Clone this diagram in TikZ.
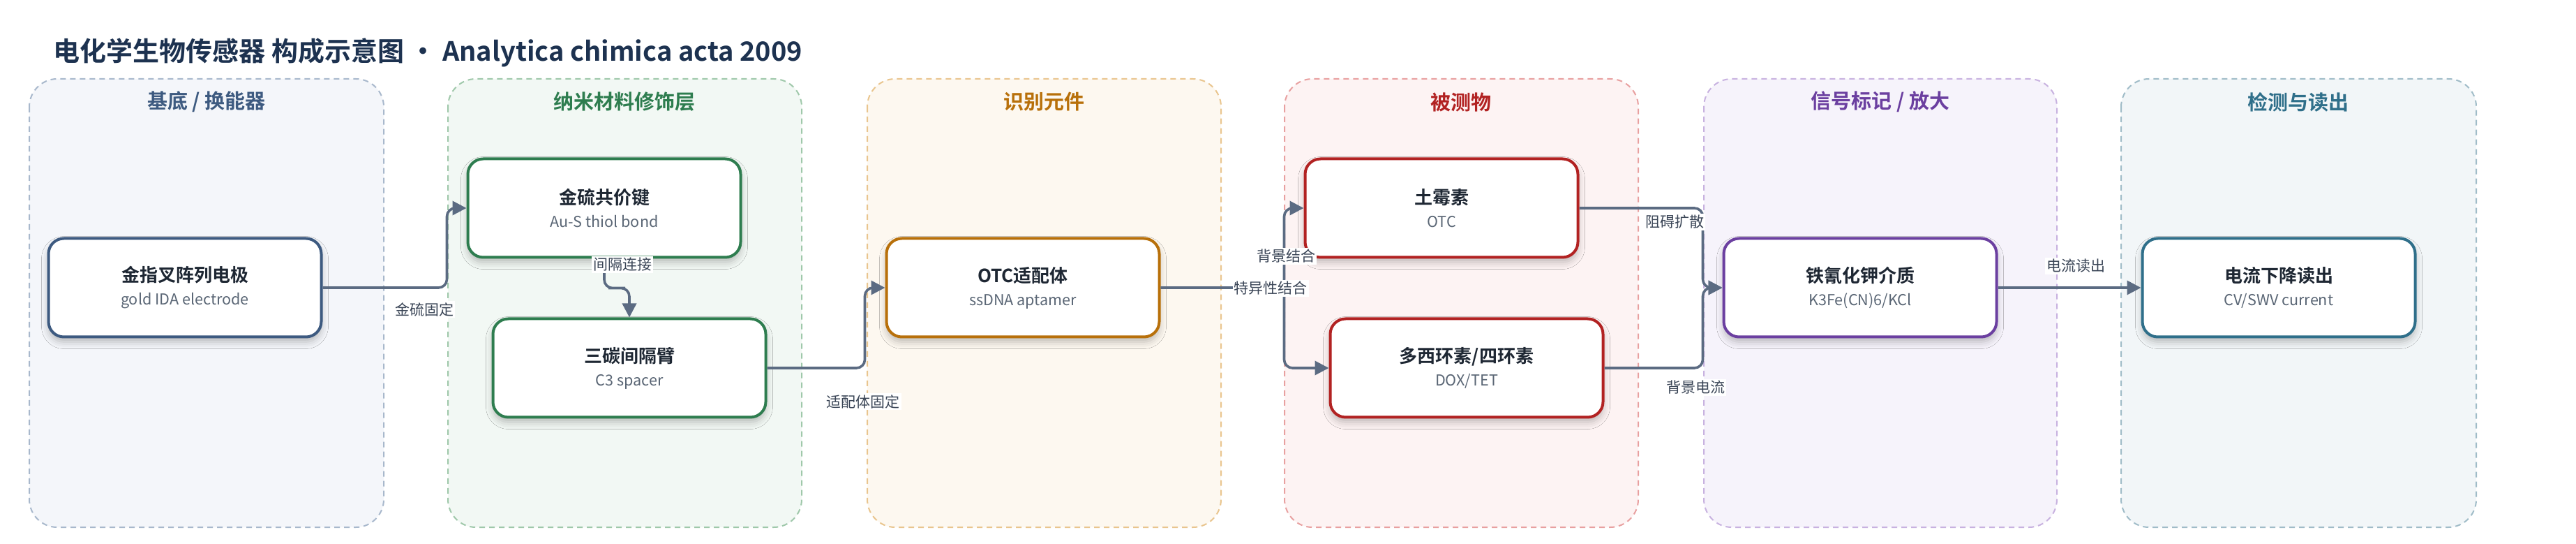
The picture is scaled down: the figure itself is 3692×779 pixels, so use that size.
\documentclass[tikz,border=0pt]{standalone}
\usepackage{fontspec}
\setmainfont{Noto Sans CJK SC}[BoldFont={Noto Sans CJK SC Bold}]
\usetikzlibrary{arrows.meta,calc,shadows.blur}
\definecolor{titlec}{HTML}{1D3250}
\definecolor{ntext}{HTML}{1E2733}
\definecolor{nsub}{HTML}{5A6675}
\definecolor{conc}{HTML}{5B6B82}
\definecolor{lblc}{HTML}{3A4556}
% lanes: title / fill / border
\definecolor{laT}{HTML}{3D5A80}\definecolor{laF}{HTML}{F4F6FA}\definecolor{laB}{HTML}{A8B8CC}
\definecolor{lbT}{HTML}{2E7D4F}\definecolor{lbF}{HTML}{F2F8F4}\definecolor{lbB}{HTML}{9FC8AA}
\definecolor{lcT}{HTML}{B8700A}\definecolor{lcF}{HTML}{FDF8F0}\definecolor{lcB}{HTML}{E9C58E}
\definecolor{ldT}{HTML}{B22222}\definecolor{ldF}{HTML}{FDF3F3}\definecolor{ldB}{HTML}{E8A0A0}
\definecolor{leT}{HTML}{6B3FA0}\definecolor{leF}{HTML}{F6F3FB}\definecolor{leB}{HTML}{C8B2E0}
\definecolor{lfT}{HTML}{2F6F8A}\definecolor{lfF}{HTML}{F2F6F8}\definecolor{lfB}{HTML}{A0BCC8}
\newcommand{\ntitle}[1]{{\bfseries\fontsize{13pt}{16.5pt}\selectfont\color{ntext}#1}}
\newcommand{\nsubt}[1]{{\fontsize{10.8pt}{16.5pt}\selectfont\color{nsub}#1}}
\tikzset{
  lanebox/.style={line width=1pt,dash pattern=on 4pt off 3pt,rounded corners=20pt},
  lanetitle/.style={font=\bfseries\fontsize{14.5pt}{16pt}\selectfont},
  box/.style={draw=#1,line width=2pt,fill=white,rounded corners=11pt,
    minimum width=195.5pt,minimum height=70.5pt,align=center,inner sep=0pt,
    font=\fontsize{10.8pt}{16.5pt}\selectfont,
    blur shadow={shadow xshift=0pt,shadow yshift=-3.5pt,shadow blur radius=5pt,shadow opacity=25}},
  conn/.style={draw=conc,line width=1.8pt,rounded corners=6pt,
    -{Triangle[length=10pt,width=10pt]}},
  lbl/.style={fill=white,text=lblc,font=\fontsize{10.5pt}{12pt}\selectfont,inner sep=1pt}
}
\begin{document}
\begin{tikzpicture}[x=0.5pt,y=-0.5pt]
\useasboundingbox[fill=white] (0,0) rectangle (3692,779);
% title
\node[anchor=west,text=titlec,font=\bfseries\fontsize{19pt}{22pt}\selectfont,inner sep=0pt] (title) at (76,75)
  {电化学生物传感器 构成示意图 · Analytica chimica acta 2009};
% lanes
\draw[lanebox,draw=laB,fill=laF] (42,113) rectangle (550,755);
\draw[lanebox,draw=lbB,fill=lbF] (642,113) rectangle (1149,755);
\draw[lanebox,draw=lcB,fill=lcF] (1243,113) rectangle (1750,755);
\draw[lanebox,draw=ldB,fill=ldF] (1841,113) rectangle (2348,755);
\draw[lanebox,draw=leB,fill=leF] (2442,113) rectangle (2948,755);
\draw[lanebox,draw=lfB,fill=lfF] (3040,113) rectangle (3549,755);
\node[lanetitle,text=laT] (t1) at (296,146) {基底 / 换能器};
\node[lanetitle,text=lbT] (t2) at (895,146) {纳米材料修饰层};
\node[lanetitle,text=lcT] (t3) at (1496,146) {识别元件};
\node[lanetitle,text=ldT] (t4) at (2094,146) {被测物};
\node[lanetitle,text=leT] (t5) at (2695,146) {信号标记 / 放大};
\node[lanetitle,text=lfT] (t6) at (3294,146) {检测与读出};
% nodes
\node[box=laT] (n1) at (265,412) {\ntitle{金指叉阵列电极}\\\nsubt{gold IDA electrode}};
\node[box=lbT] (n2) at (866,298) {\ntitle{金硫共价键}\\\nsubt{Au-S thiol bond}};
\node[box=lbT] (n3) at (902,527) {\ntitle{三碳间隔臂}\\\nsubt{C3 spacer}};
\node[box=lcT] (n4) at (1466,412) {\ntitle{OTC适配体}\\\nsubt{ssDNA aptamer}};
\node[box=ldT] (n5) at (2066,298) {\ntitle{土霉素}\\\nsubt{OTC}};
\node[box=ldT] (n6) at (2102,527) {\ntitle{多西环素/四环素}\\\nsubt{DOX/TET}};
\node[box=leT] (n7) at (2666,412) {\ntitle{铁氰化钾介质}\\\nsubt{K3Fe(CN)6/KCl}};
\node[box=lfT] (n8) at (3266,412) {\ntitle{电流下降读出}\\\nsubt{CV/SWV current}};
% junction coordinates
\coordinate (j12) at ($(n2.west)+(-28,0)$);
\coordinate (j34) at ($(n4.west)+(-29,0)$);
\coordinate (j45) at ($(n5.west)+(-28,0)$);
\coordinate (j57) at ($(n7.west)+(-28,0)$);
% connectors
\draw[conn] (n1.east) -| (j12) -- (n2.west);
\draw[conn] (n2.south) |- ($(n2.south)!0.5!(n3.north)$) -| (n3.north);
\draw[conn] (n3.east) -| (j34) -- (n4.west);
\draw[conn] (n4.east) -| (j45) -- (n5.west);
\draw[conn] (n4.east) -- (n4.east -| j45) |- (n6.west);
\draw[conn] (n5.east) -| (n7.west -| j57) -- (n7.west);
\draw[conn] (n6.east) -| (n7.west -| j57) -- (n7.west);
\draw[conn] (n7.east) -- (n8.west);
% labels
\node[lbl] (e1) at (608,443) {金硫固定};
\node[lbl] (e2) at (892,379) {间隔连接};
\node[lbl] (e3) at (1237,575) {适配体固定};
\node[lbl] (e4) at (1843,367) {背景结合};
\node[lbl] (e5) at (1821,413) {特异性结合};
\node[lbl] (e6) at (2400,318) {阻碍扩散};
\node[lbl] (e7) at (2430,555) {背景电流};
\node[lbl] (e8) at (2975,381) {电流读出};
\end{tikzpicture}
\end{document}
